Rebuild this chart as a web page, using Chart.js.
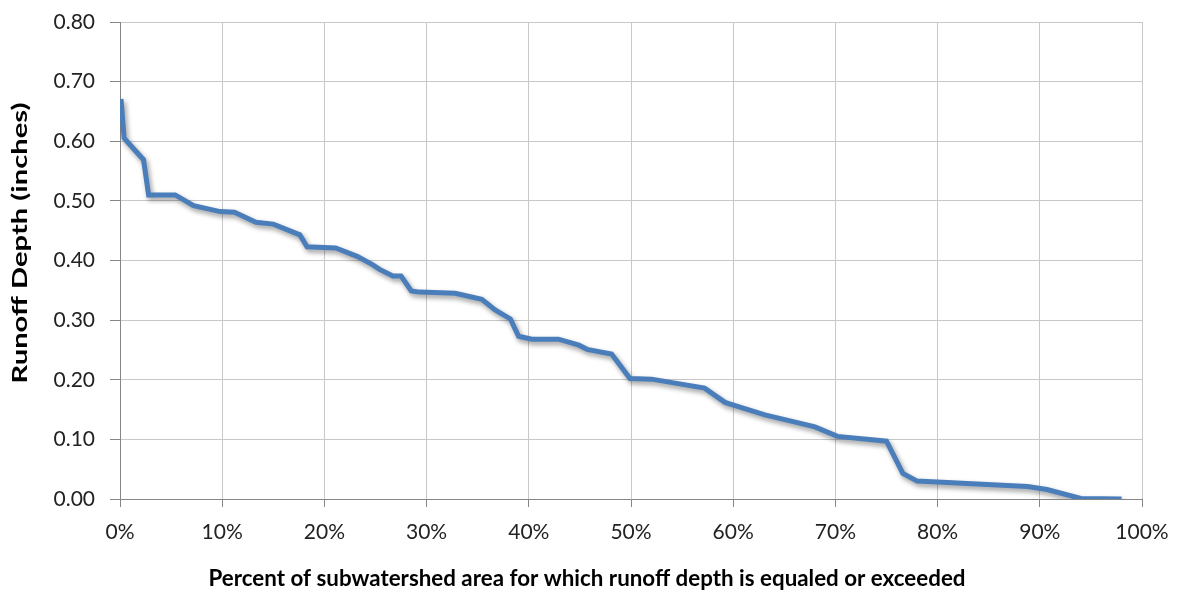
<!DOCTYPE html>
<html>
<head>
<meta charset="utf-8">
<script src="https://cdn.jsdelivr.net/npm/chart.js@4/dist/chart.umd.min.js"></script>
<style>
  html, body { margin: 0; padding: 0; background: #fff; }
  #wrap { width: 1177px; height: 590px; }
</style>
</head>
<body>
<div id="wrap"><canvas id="chart" width="1177" height="590"></canvas></div>
<script>
// ---------- Data ----------
const PCT_AREA = [0.1, 0.4, 2.3, 2.8, 5.4, 7.2, 9.8, 11.2, 13.3, 15.0, 17.6, 18.3, 21.1, 23.2, 24.7, 25.4,
  26.7, 27.5, 28.5, 29.3, 32.8, 35.4, 36.7, 38.2, 39.0, 40.3, 42.9, 44.9, 45.7, 48.1, 49.9, 52.0,
  57.2, 59.2, 60.5, 63.1, 68.0, 70.2, 75.0, 76.6, 78.0, 88.8, 90.7, 94.0, 98.0];
const RUNOFF_DEPTH = [0.671, 0.605, 0.569, 0.510, 0.510, 0.492, 0.482, 0.481, 0.464, 0.461, 0.443, 0.423, 0.421, 0.407, 0.393, 0.385,
  0.374, 0.374, 0.349, 0.347, 0.345, 0.335, 0.317, 0.302, 0.273, 0.268, 0.268, 0.258, 0.251, 0.243, 0.202, 0.201,
  0.186, 0.162, 0.155, 0.141, 0.121, 0.105, 0.097, 0.043, 0.030, 0.021, 0.016, 0.001, 0.000];
const X_TICKS = [0, 10, 20, 30, 40, 50, 60, 70, 80, 90, 100];
const Y_TICKS = [0, 0.1, 0.2, 0.3, 0.4, 0.5, 0.6, 0.7, 0.8];
const X_TITLE = "Percent of subwatershed area for which runoff depth is equaled or exceeded";
const Y_TITLE = "Runoff Depth (inches)";

const FONT = "Lato, 'Open Sans', sans-serif";
const AXIS = "#868686";
const GRID = "#c8c8c8";

// ---------- Excel-like soft shadow under the line ----------
const lineShadow = {
  id: "lineShadow",
  beforeDatasetsDraw(chart) {
    const ctx = chart.ctx;
    ctx.save();
    ctx.shadowColor = "rgba(0,0,0,0.4)";
    ctx.shadowBlur = 5;
    ctx.shadowOffsetX = 2;
    ctx.shadowOffsetY = 3;
  },
  afterDatasetsDraw(chart) { chart.ctx.restore(); }
};

// draw text centred at (0,0) and squeezed/stretched to a given length
function fitText(ctx, text, len) {
  const w = ctx.measureText(text).width;
  ctx.scale(len / w, 1);
  ctx.fillText(text, 0, 0);
}

// ---------- Axis titles (placed like the original) ----------
const axisTitles = {
  id: "axisTitles",
  afterDraw(chart) {
    const ctx = chart.ctx;
    ctx.fillStyle = "#000";
    ctx.textAlign = "center";
    ctx.textBaseline = "alphabetic";

    ctx.save();
    ctx.font = "bold 22px " + FONT;
    ctx.translate(587, 586);
    fitText(ctx, X_TITLE, 757);
    ctx.restore();

    ctx.save();
    ctx.font = "bold 21px " + FONT;
    ctx.translate(27, 243);
    ctx.rotate(-Math.PI / 2);
    fitText(ctx, Y_TITLE, 281);
    ctx.restore();
  }
};

new Chart(document.getElementById("chart"), {
  type: "line",
  data: {
    datasets: [{
      data: PCT_AREA.map((x, i) => ({ x, y: RUNOFF_DEPTH[i] })),
      borderColor: "#4a7ebb",
      borderWidth: 5,
      pointRadius: 0,
      tension: 0,
      fill: false
    }]
  },
  options: {
    responsive: false,
    animation: false,
    layout: { padding: { top: 22, right: 35, left: 0, bottom: 0 } },
    plugins: { legend: { display: false }, tooltip: { enabled: false } },
    scales: {
      x: {
        type: "linear", min: 0, max: 100,
        afterBuildTicks: s => { s.ticks = X_TICKS.map(v => ({ value: v })); },
        afterFit: s => { s.height = 91; s.paddingLeft = 0; s.paddingRight = 0; },
        ticks: { callback: v => v + "%", font: { family: FONT, size: 21 }, color: "#222", padding: 13, maxRotation: 0 },
        grid: { color: GRID, tickColor: AXIS, tickLength: 8 },
        border: { color: AXIS }
      },
      y: {
        min: 0, max: 0.8,
        afterBuildTicks: s => { s.ticks = Y_TICKS.map(v => ({ value: v })); },
        afterFit: s => { s.width = 120; s.paddingTop = 0; s.paddingBottom = 0; },
        ticks: { callback: v => v.toFixed(2), font: { family: FONT, size: 21 }, color: "#222", padding: 15 },
        grid: { color: GRID, tickColor: AXIS, tickLength: 10 },
        border: { color: AXIS }
      }
    }
  },
  plugins: [lineShadow, axisTitles]
});
</script>
</body>
</html>
